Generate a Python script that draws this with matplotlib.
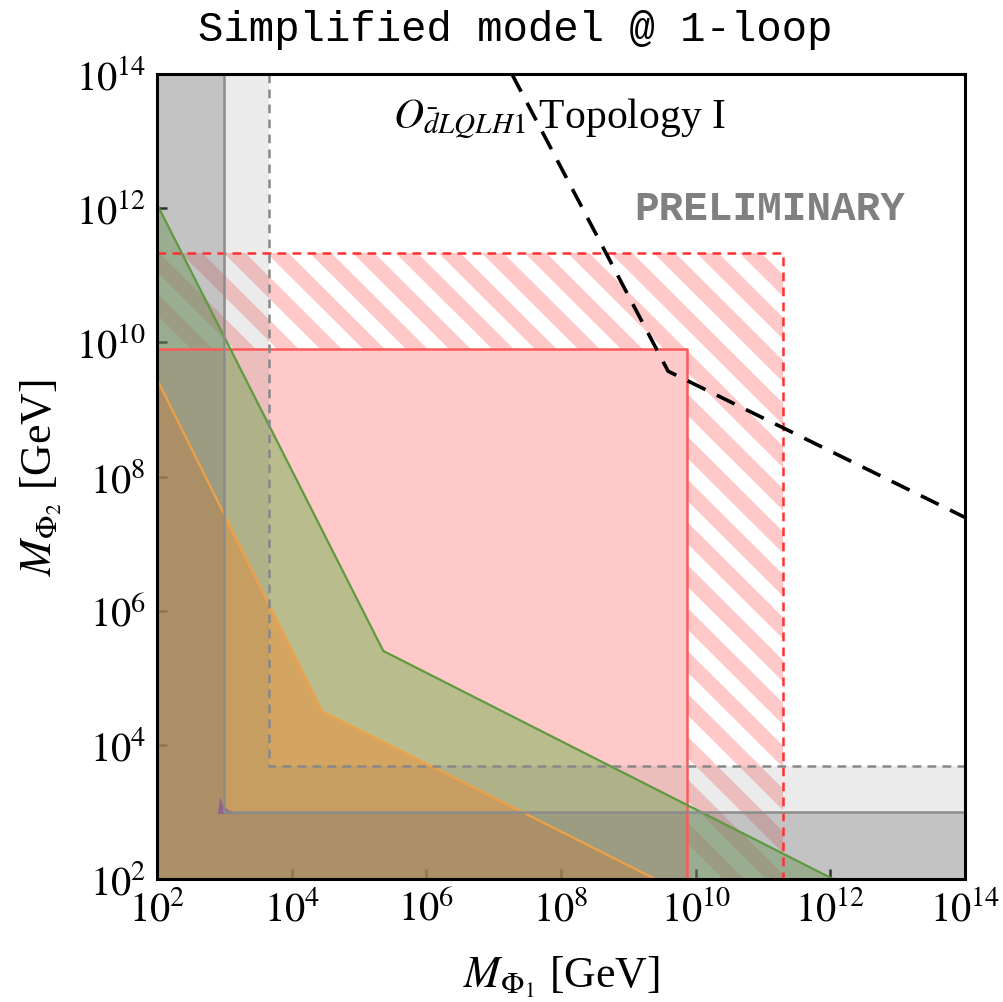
import numpy as np
import matplotlib
matplotlib.use("Agg")
import matplotlib.pyplot as plt
from matplotlib.patches import Polygon

plt.rcParams['font.family'] = ['Liberation Serif', 'DejaVu Sans']
plt.rcParams['mathtext.fontset'] = 'stix'

# ---- data (log10 of masses in GeV) ----
lim_lo, lim_hi = 2, 14

# grey exclusion bands (solid boundary / dashed boundary)
grey_dark = 3.0
grey_light_x = 3.66
grey_light_y = 3.68

# red boxes: solid filled, and hatched (dashed edge)
red_solid_x, red_solid_y = 9.87, 9.90
red_hatch_x, red_hatch_y = 11.30, 11.33

# green region boundary
green_x = [2.0, 5.36, 12.04]
green_y = [12.06, 5.40, 2.0]

# orange region boundary
orange_x = [2.0, 4.45, 9.40]
orange_y = [9.45, 4.50, 2.0]

# small purple patch near the corner
purple_x = [2.906, 2.936, 2.98, 3.055, 3.233]
purple_y = [2.969, 3.222, 3.10, 3.03, 2.969]

# black dashed line
dash_x = [7.27, 9.59, 14.0]
dash_y = [14.0, 9.57, 7.39]

ticks = [2, 4, 6, 8, 10, 12, 14]
tick_labels = [r'$10^{%d}$' % t for t in ticks]

fig = plt.figure(figsize=(10.04, 10.03), dpi=100)
ax = fig.add_axes([0.1564, 0.1226, 0.8048, 0.8026])
ax.set_xscale('log')
ax.set_yscale('log')
lo, hi = 10.0 ** lim_lo, 10.0 ** lim_hi
ax.set_xlim(lo, hi)
ax.set_ylim(lo, hi)


def L_region(bx, by):
    bx, by = 10.0 ** bx, 10.0 ** by
    return [(lo, lo), (lo, hi), (bx, hi), (bx, by), (hi, by), (hi, lo)]


pink = (1.0, 0.3, 0.3)
sx, sy = 10.0 ** red_solid_x, 10.0 ** red_solid_y
hx, hy = 10.0 ** red_hatch_x, 10.0 ** red_hatch_y

# solid red box
ax.add_patch(Polygon([(lo, lo), (lo, sy), (sx, sy), (sx, lo)], closed=True,
                     facecolor=pink, alpha=0.3, edgecolor='none', zorder=2))
ax.plot([lo, sx, sx], [sy, sy, lo], color='#ff5a5a', lw=1.8, zorder=6)

# hatched box (stripes only outside the solid box)
clip = Polygon([(lo, sy), (sx, sy), (sx, lo), (hx, lo), (hx, hy), (lo, hy)],
               closed=True, facecolor='none', edgecolor='none',
               transform=ax.transData)
ax.add_patch(clip)
period = 0.0532
for k in range(-5, 45):
    c = -0.02 + k * period
    ln, = ax.plot([c - 0.5, c + 1.5], [1.5, -0.5], transform=ax.transAxes,
                  color=pink, alpha=0.3, lw=11, solid_capstyle='butt',
                  zorder=2)
    ln.set_clip_path(clip)
ax.plot([lo, hx, hx], [hy, hy, lo], color='#ff3030', lw=1.8,
        ls=(0, (3.5, 2.5)), zorder=6)

# green and orange regions
gx = 10.0 ** np.array(green_x)
gy = 10.0 ** np.array(green_y)
ax.add_patch(Polygon(list(zip(gx, gy)) + [(lo, lo)], closed=True,
                     facecolor='#6aae48', alpha=0.47, edgecolor='none', zorder=3))
ax.plot(gx, gy, color='#5f9a40', lw=1.6, zorder=6)

ox = 10.0 ** np.array(orange_x)
oy = 10.0 ** np.array(orange_y)
ax.add_patch(Polygon(list(zip(ox, oy)) + [(lo, lo)], closed=True,
                     facecolor='#f08f35', alpha=0.5, edgecolor='none', zorder=4))
ax.plot(ox, oy, color='#f0a048', lw=1.6, zorder=6)

ax.add_patch(Polygon(list(zip(10.0 ** np.array(purple_x), 10.0 ** np.array(purple_y))),
                     closed=True, facecolor='#8a5a9a', alpha=0.8,
                     edgecolor='none', zorder=5.5))

# grey bands laid over the coloured regions
ax.add_patch(Polygon(L_region(grey_light_x, grey_light_y), closed=True,
                     facecolor='#737373', alpha=0.136, edgecolor='none', zorder=5))
ax.add_patch(Polygon(L_region(grey_dark, grey_dark), closed=True,
                     facecolor='#737373', alpha=0.33, edgecolor='none', zorder=5.1))

# grey boundaries
gd = 10.0 ** grey_dark
ax.plot([gd, gd, hi], [hi, gd, gd], color='#8c8c8c', lw=1.8, zorder=6)
glx, gly = 10.0 ** grey_light_x, 10.0 ** grey_light_y
ax.plot([glx, glx, hi], [hi, gly, gly], color='#888888', lw=1.8,
        ls=(0, (3.5, 2.5)), zorder=6)

# black dashed line
ax.plot(10.0 ** np.array(dash_x), 10.0 ** np.array(dash_y), color='black',
        lw=2.6, ls=(0, (5.5, 3.5)), zorder=7)

# axes styling
ax.set_xticks([10.0 ** t for t in ticks])
ax.set_yticks([10.0 ** t for t in ticks])
ax.set_xticklabels(tick_labels)
ax.set_yticklabels(tick_labels)
ax.minorticks_off()
ax.tick_params(direction='in', length=7, width=1.8, labelsize=29,
               top=False, right=False, pad=8)
for s in ax.spines.values():
    s.set_linewidth(2.2)
    s.set_zorder(10)

ax.set_xlabel(r'$M_{\Phi_1}$ [GeV]', fontsize=31.5, labelpad=18)
ax.set_ylabel(r'$M_{\Phi_2}$ [GeV]', fontsize=31.5, labelpad=8)

ax.text(10.0 ** 5.5, 10.0 ** 13.35, r'$O_{\bar{d}LQLH1}$ Topology I',
        fontsize=30, ha='left', va='center', zorder=8)
ax.text(10.0 ** 11.1, 10.0 ** 12.0, 'PRELIMINARY', family='Liberation Mono',
        fontweight='bold', color='#808080', fontsize=29.5, ha='center',
        va='center', zorder=8)

fig.text(0.513, 0.970, 'Simplified model @ 1-loop', family='Liberation Mono',
         fontsize=30.5, ha='center', va='center')

fig.savefig('out.png', dpi=100)
